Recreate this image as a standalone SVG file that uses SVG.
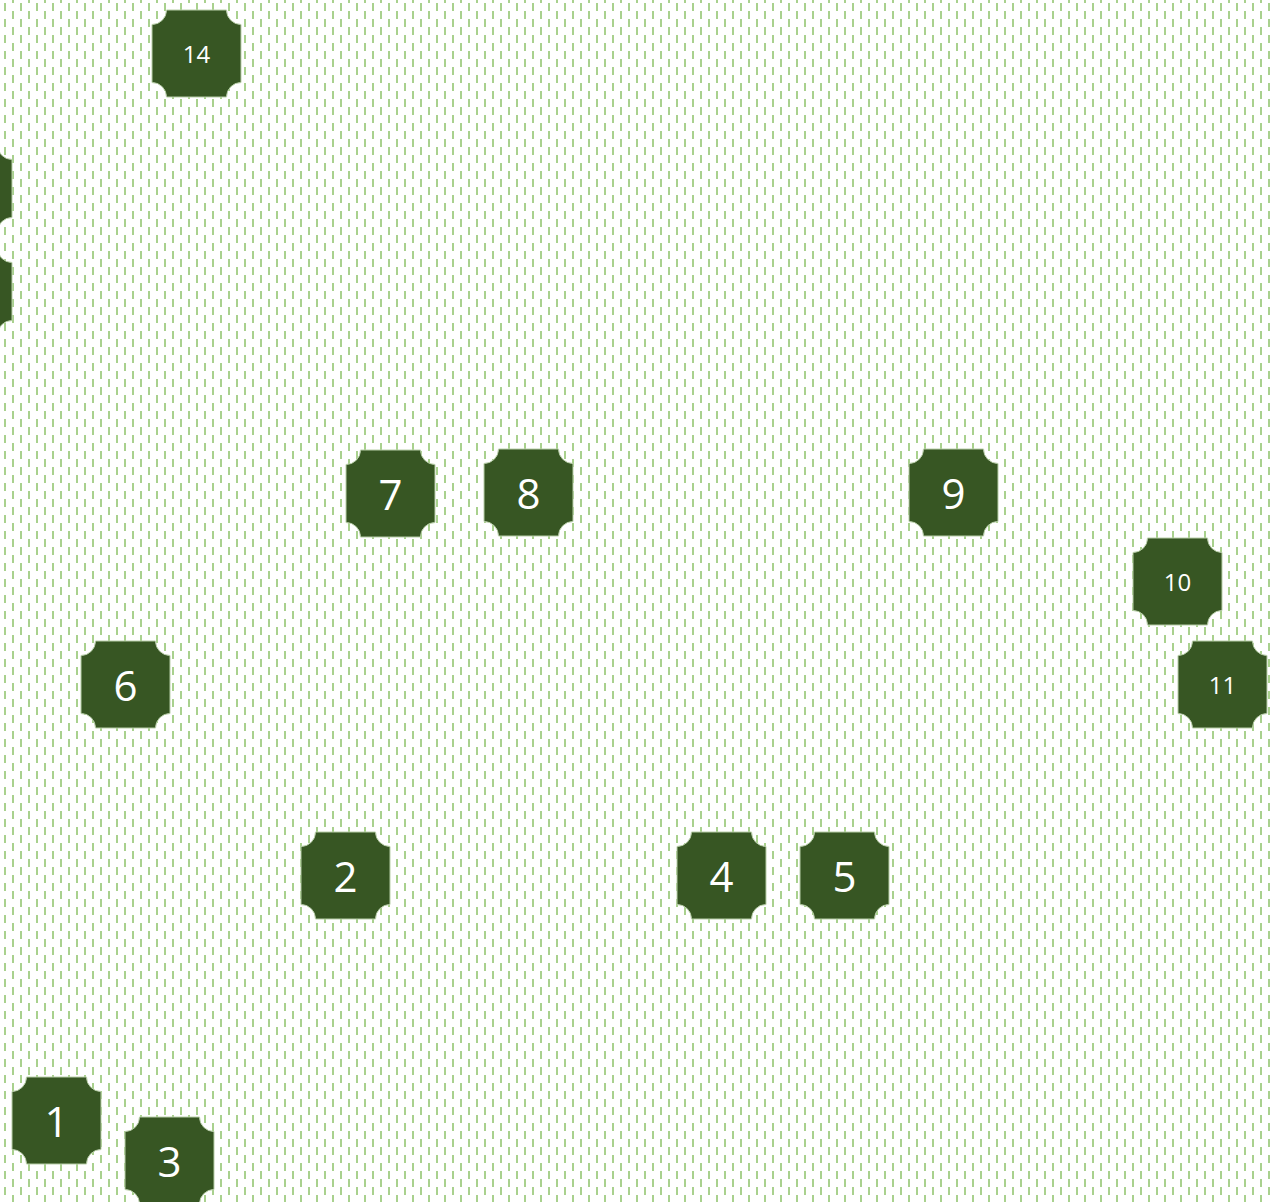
<svg xmlns="http://www.w3.org/2000/svg" xmlns:xlink="http://www.w3.org/1999/xlink" width="1270" height="1202" viewBox="0 0 1270 1202">
  <defs>
    <pattern id="dashvert" patternUnits="userSpaceOnUse" x="0" y="0" width="16" height="16">
      <rect x="0" y="0" width="16" height="16" fill="#ffffff"/>
      <rect x="4" y="3" width="2" height="8" fill="#a9d18e"/>
      <rect x="12" y="11" width="2" height="5" fill="#a9d18e"/>
      <rect x="12" y="0" width="2" height="3" fill="#a9d18e"/>
    </pattern>
    <path id="plaque" d="M14.5,0 H74.5 A14.5,14.5 0 0 0 89,14.5 V72.5 A14.5,14.5 0 0 0 74.5,87 H14.5 A14.5,14.5 0 0 0 0,72.5 V14.5 A14.5,14.5 0 0 0 14.5,0 Z"/>
  </defs>
  <style>
    .shape { fill: #375623; stroke: #b9cfa9; stroke-width: 1; }
    .lbl { fill: #ffffff; font-family: "Open Sans", "Noto Sans", "Liberation Sans", sans-serif; text-anchor: middle; }
    .big { font-size: 42px; }
    .small { font-size: 24px; }
  </style>
  <rect x="0" y="0" width="1270" height="1202" fill="url(#dashvert)"/>
  <g id="connectors"></g>
  <g id="nodes">
    <g id="node-14" transform="translate(152,10)"><use xlink:href="#plaque" class="shape"/><text class="lbl small" x="44.5" y="53">14</text></g>
    <g id="node-12" transform="translate(-77,145)"><use xlink:href="#plaque" class="shape"/></g>
    <g id="node-13" transform="translate(-77,248)"><use xlink:href="#plaque" class="shape"/></g>
    <g id="node-7" transform="translate(346,450)"><use xlink:href="#plaque" class="shape"/><text class="lbl big" x="44.5" y="60">7</text></g>
    <g id="node-8" transform="translate(484,449)"><use xlink:href="#plaque" class="shape"/><text class="lbl big" x="44.5" y="60">8</text></g>
    <g id="node-9" transform="translate(909,449)"><use xlink:href="#plaque" class="shape"/><text class="lbl big" x="44.5" y="60">9</text></g>
    <g id="node-10" transform="translate(1133,538)"><use xlink:href="#plaque" class="shape"/><text class="lbl small" x="44.5" y="53">10</text></g>
    <g id="node-11" transform="translate(1178,641)"><use xlink:href="#plaque" class="shape"/><text class="lbl small" x="44.5" y="53">11</text></g>
    <g id="node-6" transform="translate(81,641)"><use xlink:href="#plaque" class="shape"/><text class="lbl big" x="44.5" y="60">6</text></g>
    <g id="node-2" transform="translate(301,832)"><use xlink:href="#plaque" class="shape"/><text class="lbl big" x="44.5" y="60">2</text></g>
    <g id="node-4" transform="translate(677,832)"><use xlink:href="#plaque" class="shape"/><text class="lbl big" x="44.5" y="60">4</text></g>
    <g id="node-5" transform="translate(800,832)"><use xlink:href="#plaque" class="shape"/><text class="lbl big" x="44.5" y="60">5</text></g>
    <g id="node-1" transform="translate(12,1077)"><use xlink:href="#plaque" class="shape"/><text class="lbl big" x="44.5" y="60">1</text></g>
    <g id="node-3" transform="translate(125,1117)"><use xlink:href="#plaque" class="shape"/><text class="lbl big" x="44.5" y="60">3</text></g>
  </g>
</svg>
